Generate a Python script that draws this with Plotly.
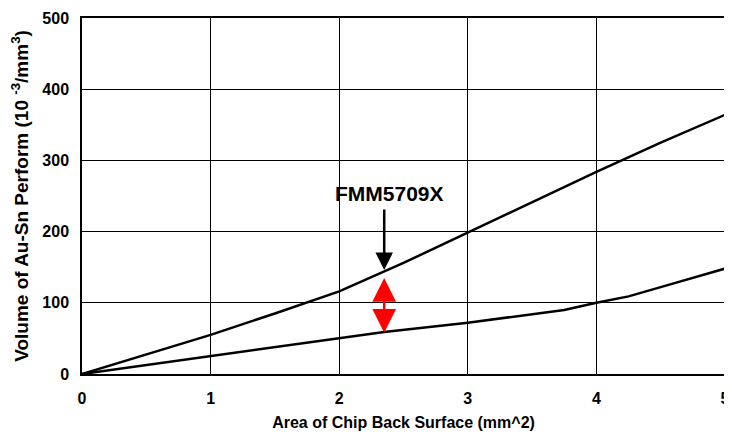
import plotly.graph_objects as go

# data
area = [0, 1, 1.5, 2, 2.5, 3, 3.5, 4, 4.5, 5]
vol_upper = [0, 55, 85, 116, 156, 199, 242, 284, 325, 364]

area_lower = [0, 1, 2, 2.35, 3, 3.5, 3.75, 4, 4.25, 4.5, 5]
vol_lower = [0, 25, 51, 59, 72, 84, 90, 100, 109, 122, 148]

x_ticks = [0, 1, 2, 3, 4, 5]
y_ticks = [0, 100, 200, 300, 400, 500]

label_x = 2.35
label_text = 'FMM5709X'

fig = go.Figure()
fig.add_trace(go.Scatter(x=area, y=vol_upper, mode='lines',
                         line=dict(color='black', width=2.5), showlegend=False))
fig.add_trace(go.Scatter(x=area_lower, y=vol_lower, mode='lines',
                         line=dict(color='black', width=2.5), showlegend=False))

# label with black arrow pointing at upper curve
fig.add_annotation(x=label_x, y=146, ax=label_x, ay=233, xref='x', yref='y',
                   axref='x', ayref='y', text='', showarrow=True,
                   arrowhead=2, arrowsize=1.4, arrowwidth=2.5, arrowcolor='black')
fig.add_annotation(x=label_x + 0.04, y=254, xref='x', yref='y', showarrow=False,
                   text='<b>' + label_text + '</b>',
                   font=dict(family='Liberation Sans', size=21, color='black'))

# red double-headed arrow between curves
fig.add_annotation(x=label_x, y=58, ax=label_x, ay=137, xref='x', yref='y',
                   axref='x', ayref='y', text='', showarrow=True,
                   arrowhead=2, startarrowhead=2, arrowside='end+start',
                   arrowsize=1.9, startarrowsize=1.9, arrowwidth=2.5, arrowcolor='red')

# page body adds 8px offset, so size/margins compensate for it
fig.update_layout(
    width=724, height=423,
    margin=dict(l=74, r=7, t=10, b=57),
    paper_bgcolor='white', plot_bgcolor='white',
    font=dict(family='Liberation Sans', size=16, color='black'),
)
fig.update_xaxes(
    range=[0, 5], tickvals=x_ticks, ticktext=['<b>%d</b>' % v for v in x_ticks],
    tickfont=dict(size=16), ticklabelstandoff=9,
    showgrid=True, gridcolor='black', gridwidth=1,
    showline=True, linecolor='black', linewidth=1.5, mirror=True,
    ticks='', zeroline=False, automargin=False,
    title=dict(text='<b>Area of Chip Back Surface (mm^2)</b>', standoff=19,
               font=dict(size=16)),
)
fig.update_yaxes(
    range=[0, 500], tickvals=y_ticks, ticktext=['<b>%d</b>' % v for v in y_ticks],
    tickfont=dict(size=16), ticklabelstandoff=8,
    showgrid=True, gridcolor='black', gridwidth=1,
    showline=True, linecolor='black', linewidth=1.5, mirror=True,
    ticks='', zeroline=False, automargin=False,
    title=dict(text='<b>Volume of Au-Sn Perform (10 <sup>-3</sup>/mm<sup>3</sup>)</b>',
               standoff=12, font=dict(size=19)),
)

fig.write_html("out.html")
